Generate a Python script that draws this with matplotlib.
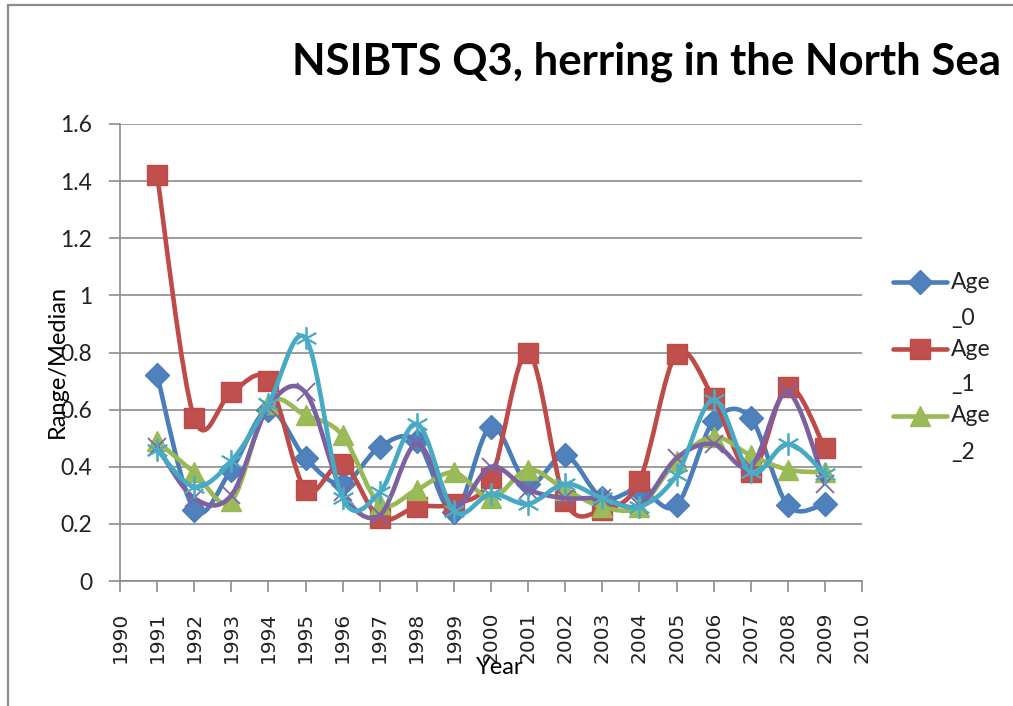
import matplotlib
matplotlib.use("Agg")
import matplotlib.pyplot as plt
from matplotlib.path import Path
from matplotlib.patches import PathPatch, Rectangle
from matplotlib.lines import Line2D

years = [1991, 1992, 1993, 1994, 1995, 1996, 1997, 1998, 1999, 2000,
         2001, 2002, 2003, 2004, 2005, 2006, 2007, 2008, 2009]
age0 = [0.72, 0.25, 0.39, 0.60, 0.43, 0.34, 0.47, 0.49, 0.24, 0.54,
        0.34, 0.44, 0.29, 0.32, 0.265, 0.56, 0.57, 0.265, 0.27]
age1 = [1.42, 0.57, 0.66, 0.70, 0.32, 0.41, 0.22, 0.26, 0.27, 0.36,
        0.80, 0.28, 0.25, 0.35, 0.795, 0.64, 0.38, 0.68, 0.465]
age2 = [0.49, 0.38, 0.28, 0.62, 0.58, 0.51, 0.27, 0.32, 0.38, 0.29,
        0.39, 0.32, 0.26, 0.26, 0.42, 0.505, 0.44, 0.39, 0.38]
age3 = [0.47, 0.29, 0.30, 0.61, 0.66, 0.31, 0.23, 0.48, 0.26, 0.40,
        0.32, 0.29, 0.29, 0.265, 0.43, 0.48, 0.40, 0.66, 0.34]
age4 = [0.46, 0.33, 0.42, 0.62, 0.85, 0.29, 0.31, 0.55, 0.245, 0.305,
        0.27, 0.34, 0.29, 0.26, 0.37, 0.635, 0.38, 0.48, 0.375]
series_names = ["Age_0", "Age_1", "Age_2", "Age_3", "Age_4"]
legend_labels = ["Age\n_0", "Age\n_1", "Age\n_2"]
title = "NSIBTS Q3, herring in the North Sea"
xlabel = "Year"
ylabel = "Range/Median"
xticks = list(range(1990, 2011))
yticks = [0, 0.2, 0.4, 0.6, 0.8, 1.0, 1.2, 1.4, 1.6]
ytick_labels = ["0", "0.2", "0.4", "0.6", "0.8", "1", "1.2", "1.4", "1.6"]

line_colors = ["#4A7EBB", "#BE4B48", "#98B954", "#7D60A0", "#46AAC5"]
styles = [
    dict(marker="D", ms=12, mec="#4A7EBB", mfc="#4F81BD", mew=1),
    dict(marker="s", ms=14.5, mec="#BE4B48", mfc="#C0504D", mew=1),
    dict(marker="^", ms=14, mec="#98B954", mfc="#9BBB59", mew=1),
    dict(marker="x", ms=13, mec="#8064A2", mfc="none", mew=1.3),
    dict(marker=(6, 2, 0), ms=16, mec="#4BACC6", mfc="none", mew=1.3),
]

SANS = ["Lato", "DejaVu Sans"]

W, H = 1013, 706
fig = plt.figure(figsize=(W / 100, H / 100), dpi=100)
fig.patch.set_facecolor("white")
# chart border
fig.patches.append(Rectangle((8 / W, -0.05), 1.2, 1 - 4.5 / H + 0.05,
                             transform=fig.transFigure, fill=False,
                             edgecolor="#8c8c8c", lw=1.6))

ax = fig.add_axes([120 / W, 1 - 581 / H, (862 - 120) / W, (581 - 124) / H])
ax.set_xlim(1990, 2010)
ax.set_ylim(0, 1.6)
for s in ["top", "right"]:
    ax.spines[s].set_visible(False)
for s in ["left", "bottom"]:
    ax.spines[s].set_color("#8c8c8c")
    ax.spines[s].set_linewidth(1.2)
ax.set_yticks(yticks)
ax.set_yticklabels(ytick_labels, fontsize=16.5, family=SANS, color="#222222")
ax.set_xticks(xticks)
ax.set_xticklabels([str(t) for t in xticks], rotation=90, fontsize=14.5,
                   family=["DejaVu Sans"], color="#222222")
ax.tick_params(axis="y", length=8, width=1.2, color="#8c8c8c", pad=12)
ax.tick_params(axis="x", length=8, width=1.2, color="#8c8c8c", pad=14)
ax.grid(axis="y", color="#8c8c8c", lw=1.2)
ax.set_axisbelow(True)


def smooth_path(x, y):
    n = len(x)
    verts = [(x[0], y[0])]
    codes = [Path.MOVETO]
    for i in range(n - 1):
        x0, y0 = (x[i - 1], y[i - 1]) if i > 0 else (x[i], y[i])
        x3, y3 = (x[i + 2], y[i + 2]) if i + 2 < n else (x[i + 1], y[i + 1])
        c1 = (x[i] + (x[i + 1] - x0) / 6, y[i] + (y[i + 1] - y0) / 6)
        c2 = (x[i + 1] - (x3 - x[i]) / 6, y[i + 1] - (y3 - y[i]) / 6)
        verts += [c1, c2, (x[i + 1], y[i + 1])]
        codes += [Path.CURVE4] * 3
    return Path(verts, codes)


data = [age0, age1, age2, age3, age4]
for k, (vals, col, st) in enumerate(zip(data, line_colors, styles)):
    patch = PathPatch(smooth_path(years, vals), facecolor="none",
                      edgecolor=col, lw=3.3, capstyle="round",
                      joinstyle="round", zorder=3 + 2 * k)
    ax.add_patch(patch)
    ax.plot(years, vals, linestyle="none", zorder=4 + 2 * k,
            label=series_names[k], **st)

# legend (first three entries, Excel style)
leg_y = [282, 349, 416]
for k in range(3):
    y = 1 - leg_y[k] / H
    fig.add_artist(Line2D([893 / W, 947 / W], [y, y], transform=fig.transFigure,
                          color=line_colors[k], lw=3.3, solid_capstyle="round"))
    fig.add_artist(Line2D([920 / W], [y], transform=fig.transFigure,
                          linestyle="none", **styles[k]))
    first, second = legend_labels[k].split("\n")
    fig.text(951 / W, y, first, ha="left", va="center", fontsize=16.5,
             family=SANS, color="#222222")
    fig.text(951 / W, 1 - (leg_y[k] + 36) / H, second, ha="left", va="center",
             fontsize=16.5, family=SANS, color="#222222")

fig.text(647 / W, 1 - 62 / H, title, ha="center", va="center", fontsize=31.5,
         fontweight="bold", family=SANS, color="black")
fig.text(500 / W, 1 - 668 / H, xlabel, ha="center", va="center", fontsize=17,
         family=SANS, color="black")
fig.text(57 / W, 1 - 362 / H, ylabel, ha="center", va="center", fontsize=17,
         rotation=90, family=SANS, color="black")

fig.savefig("out.png", dpi=100)
